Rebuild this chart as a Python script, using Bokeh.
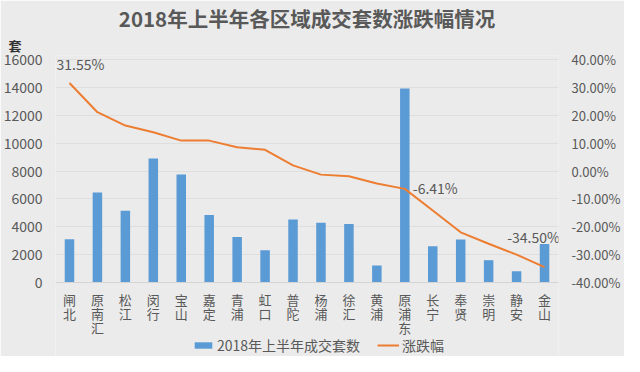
from bokeh.plotting import figure
from bokeh.models import (Range1d, LinearAxis, FixedTicker, NumeralTickFormatter, Legend,
                          LegendItem, Title, ColumnDataSource, Span)
from bokeh.core.properties import value
from bokeh.embed import file_html
from bokeh.resources import INLINE

districts = ["闸北", "原南汇", "松江", "闵行", "宝山", "嘉定", "青浦", "虹口", "普陀",
             "杨浦", "徐汇", "黄浦", "原浦东", "长宁", "奉贤", "崇明", "静安", "金山"]
deals = [3110, 6460, 5140, 8900, 7750, 4850, 3270, 2320, 4520,
         4280, 4200, 1220, 13920, 2600, 3080, 1600, 810, 2770]
change = [0.3155, 0.211, 0.163, 0.139, 0.109, 0.109, 0.085, 0.076, 0.020,
          -0.013, -0.019, -0.045, -0.0641, -0.142, -0.220, -0.261, -0.300, -0.345]
labeled = [0, 12, 17]
left_ticks = [0, 2000, 4000, 6000, 8000, 10000, 12000, 14000, 16000]
right_ticks = [-0.4, -0.3, -0.2, -0.1, 0.0, 0.1, 0.2, 0.3, 0.4]

title_text = "2018年上半年各区域成交套数涨跌幅情况"
bar_name = "2018年上半年成交套数"
line_name = "涨跌幅"
unit_text = "套"

FONT = "Noto Sans CJK SC"
TXT = "#595959"
BG = "#ebebeb"

# layout (pixels): plot area height and the room kept inside the frame above/below it
PLOT_PX, TOP_PAD, BOTTOM_PAD = 223, 4, 74
lmin, lmax = left_ticks[0], left_ticks[-1]
rmin, rmax = right_ticks[0], right_ticks[-1]
lspan, rspan = (lmax - lmin) / PLOT_PX, (rmax - rmin) / PLOT_PX

n = len(districts)
idx = list(range(n))

p = figure(x_range=Range1d(-0.5, n - 0.5),
           y_range=Range1d(lmin - BOTTOM_PAD * lspan, lmax + TOP_PAD * lspan),
           width=624, height=356, output_backend="svg", toolbar_location=None,
           x_axis_location=None,
           background_fill_color=BG, border_fill_color=BG, outline_line_color=None,
           min_border_left=53, min_border_right=66, min_border_top=42, min_border_bottom=0)
p.extra_y_ranges = {"pct": Range1d(rmin - BOTTOM_PAD * rspan, rmax + TOP_PAD * rspan)}

p.title.text = title_text
p.title.align = "center"
p.title.text_font = FONT
p.title.text_font_size = "20.5px"
p.title.text_font_style = "bold"
p.title.text_color = TXT
p.title.standoff = 0

unit = Title(text=unit_text, align="left", offset=-47, text_font=FONT, text_font_size="13px",
             text_font_style="bold", text_color="#333333", standoff=2)
p.add_layout(unit, "above")

src = ColumnDataSource(dict(x=idx, deals=deals, change=change))
bars = p.vbar(x="x", top="deals", width=0.34, source=src, color="#5b9bd5", line_color=None)
line = p.line(x="x", y="change", source=src, y_range_name="pct", line_color="#ed7d31", line_width=2)

p.add_layout(Span(location=0, dimension="width", line_color="#d4d4d4", line_width=1))

lab = ColumnDataSource(dict(
    x=labeled,
    y=[change[i] for i in labeled],
    t=["%.2f%%" % (change[i] * 100) for i in labeled],
    xo=[11, 8, -11], yo=[-19, -1, -30], al=["center", "left", "center"]))
p.text(x="x", y="y", text="t", source=lab, y_range_name="pct", x_offset="xo", y_offset="yo",
       text_align="al", text_baseline="middle", text_font=value(FONT), text_font_size="14px",
       text_color=TXT)

# stacked (vertical) category labels under the bars
cx, cch, cyo = [], [], []
for i, d in enumerate(districts):
    for r, ch in enumerate(d):
        cx.append(i)
        cch.append(ch)
        cyo.append(16.5 + 14 * r)
p.text(x="x", y=0, text="t", y_offset="yo", source=ColumnDataSource(dict(x=cx, t=cch, yo=cyo)),
       text_align="center", text_baseline="middle", text_font=value(FONT),
       text_font_size="13px", text_color=TXT)

# y axes
yl = p.yaxis[0]
yl.ticker = FixedTicker(ticks=left_ticks, minor_ticks=[])
yr = LinearAxis(y_range_name="pct", ticker=FixedTicker(ticks=right_ticks, minor_ticks=[]),
                formatter=NumeralTickFormatter(format="0.00%"))
p.add_layout(yr, "right")
for ax, so, fs in ((yl, 13, "14px"), (yr, 13, "13px")):
    ax.axis_line_color = None
    ax.major_tick_line_color = None
    ax.minor_tick_line_color = None
    ax.major_tick_out = 0
    ax.major_tick_in = 0
    ax.minor_tick_out = 0
    ax.major_label_text_font = FONT
    ax.major_label_text_font_size = fs
    ax.major_label_text_color = TXT
    ax.major_label_standoff = so

p.xgrid.grid_line_color = None
p.ygrid.grid_line_color = "#dedede"
p.ygrid.ticker = FixedTicker(ticks=left_ticks, minor_ticks=[])

legend = Legend(items=[LegendItem(label=bar_name, renderers=[bars]),
                       LegendItem(label=line_name, renderers=[line])],
                orientation="horizontal", location=(137, 1),
                background_fill_alpha=0, border_line_color=None,
                label_text_font=FONT, label_text_font_size="14px", label_text_color=TXT,
                label_height=14, glyph_width=22, glyph_height=8, label_standoff=3, spacing=17,
                padding=0, margin=0)
p.add_layout(legend, "center")

open("out.html", "w").write(file_html(p, INLINE))
